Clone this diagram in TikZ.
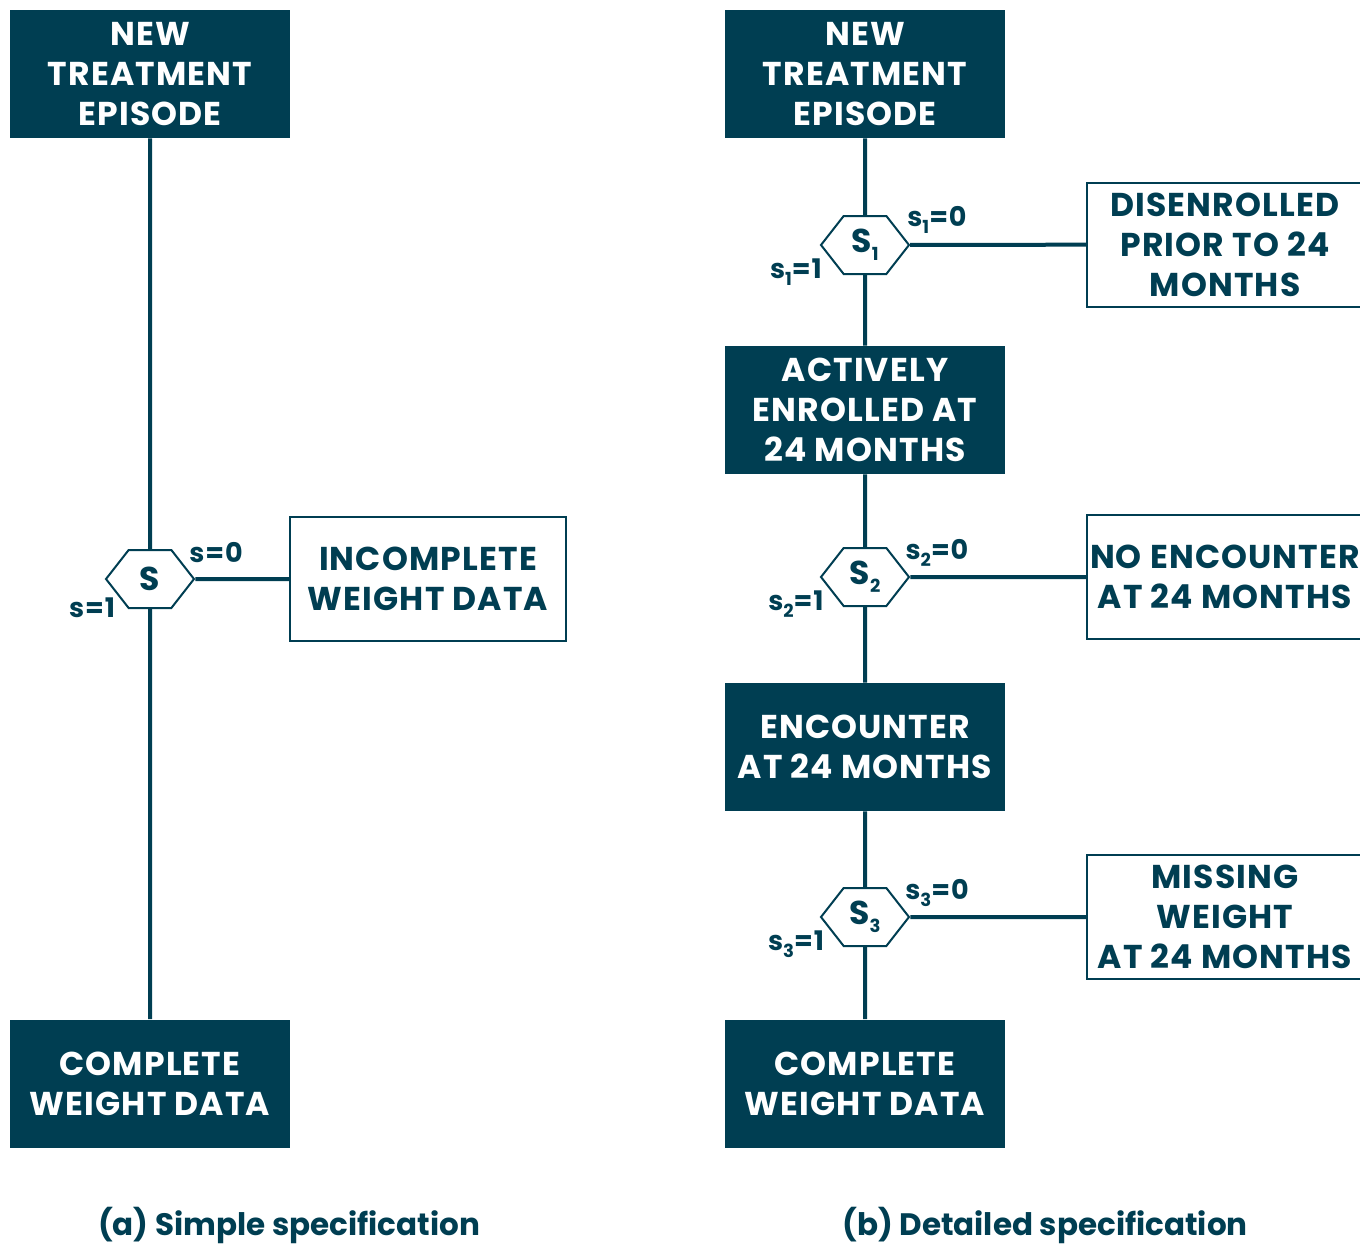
\documentclass[tikz,border=0pt]{standalone}
\usepackage{fontspec}
\setmainfont{Poppins}
\newfontfamily\widefont[LetterSpace=3.5]{Poppins}
\usetikzlibrary{shapes.symbols,positioning}

\definecolor{deepteal}{RGB}{0,62,82}
\newcommand{\lowsub}[1]{\raisebox{-0.45ex}{\fontsize{9}{9}\selectfont #1}}

\tikzset{
  boxfont/.style={font=\widefont\bfseries\fontsize{16.5}{20}\selectfont},
  darkbox/.style={boxfont, fill=deepteal, text=white, align=center,
    minimum width=140pt, minimum height=64pt, inner sep=2pt},
  outbox/.style={boxfont, draw=deepteal, line width=1pt, fill=white, text=deepteal,
    align=center, minimum width=138pt, minimum height=62pt, inner sep=1pt},
  hexa/.style={boxfont, signal, signal to=east and west, signal pointer angle=104,
    draw=deepteal, line width=1pt, fill=white, text=deepteal,
    minimum width=44pt, minimum height=29pt, inner sep=0pt},
  flow/.style={draw=deepteal, line width=2pt},
  lbl/.style={text=deepteal, font=\widefont\bfseries\fontsize{13.5}{15}\selectfont, inner sep=0pt},
  caption/.style={text=deepteal, font=\bfseries\fontsize{15.5}{18}\selectfont,
    inner sep=0pt, anchor=base},
}

\begin{document}
\begin{tikzpicture}[x=0.5pt,y=-0.5pt]
  \useasboundingbox (0,0) rectangle (1360,1247);
  \clip (0,0) rectangle (1360,1247);

  % (a) simple specification
  \node[darkbox] (newa) at (150,74) {NEW\\TREATMENT\\EPISODE};
  \node[hexa] (s) at (150,579) {S};
  \node[outbox] (incw) at (428,579) {INCOMPLETE\\WEIGHT DATA};
  \node[darkbox] (compla) at (150,1083.5) {COMPLETE\\WEIGHT DATA};

  \draw[flow] (newa) -- (s);
  \draw[flow] (s) -- (compla);
  \draw[flow] (s) -- (incw);

  \node[lbl] (s0) at (216,553) {s=0};
  \node[lbl] (s1) at (92,608) {s=1};

  % (b) detailed specification
  \node[darkbox] (newb) at (865,74) {NEW\\TREATMENT\\EPISODE};
  \node[hexa] (sa) at (865,245) {S\lowsub{1}};
  \node[outbox] (disen) at (1225,244.5) {DISENROLLED\\PRIOR TO 24\\MONTHS};
  \node[darkbox] (active) at (865,410) {ACTIVELY\\ENROLLED AT\\24 MONTHS};
  \node[hexa] (sb) at (865,577) {S\lowsub{2}};
  \node[outbox] (noenc) at (1225,577) {NO ENCOUNTER\\AT 24 MONTHS};
  \node[darkbox] (enc) at (865,747) {ENCOUNTER\\AT 24 MONTHS};
  \node[hexa] (sc) at (865,917) {S\lowsub{3}};
  \node[outbox] (miss) at (1225,917) {MISSING\\WEIGHT\\AT 24 MONTHS};
  \node[darkbox] (complb) at (865,1083.5) {COMPLETE\\WEIGHT DATA};

  \draw[flow] (newb) -- (sa);
  \draw[flow] (sa) -- (active);
  \draw[flow] (sa) -- (disen);
  \draw[flow] (active) -- (sb);
  \draw[flow] (sb) -- (enc);
  \draw[flow] (sb) -- (noenc);
  \draw[flow] (enc) -- (sc);
  \draw[flow] (sc) -- (complb);
  \draw[flow] (sc) -- (miss);

  \node[lbl] (sa0) at (937,220) {s\lowsub{1}=0};
  \node[lbl] (sa1) at (796,272) {s\lowsub{1}=1};
  \node[lbl] (sb0) at (937,553) {s\lowsub{2}=0};
  \node[lbl] (sb1) at (796,604) {s\lowsub{2}=1};
  \node[lbl] (sc0) at (937,893) {s\lowsub{3}=0};
  \node[lbl] (sc1) at (796,944) {s\lowsub{3}=1};

  \node[caption] (capa) at (289,1235) {(a) Simple specification};
  \node[caption] (capb) at (1045,1235) {(b) Detailed specification};
\end{tikzpicture}
\end{document}
